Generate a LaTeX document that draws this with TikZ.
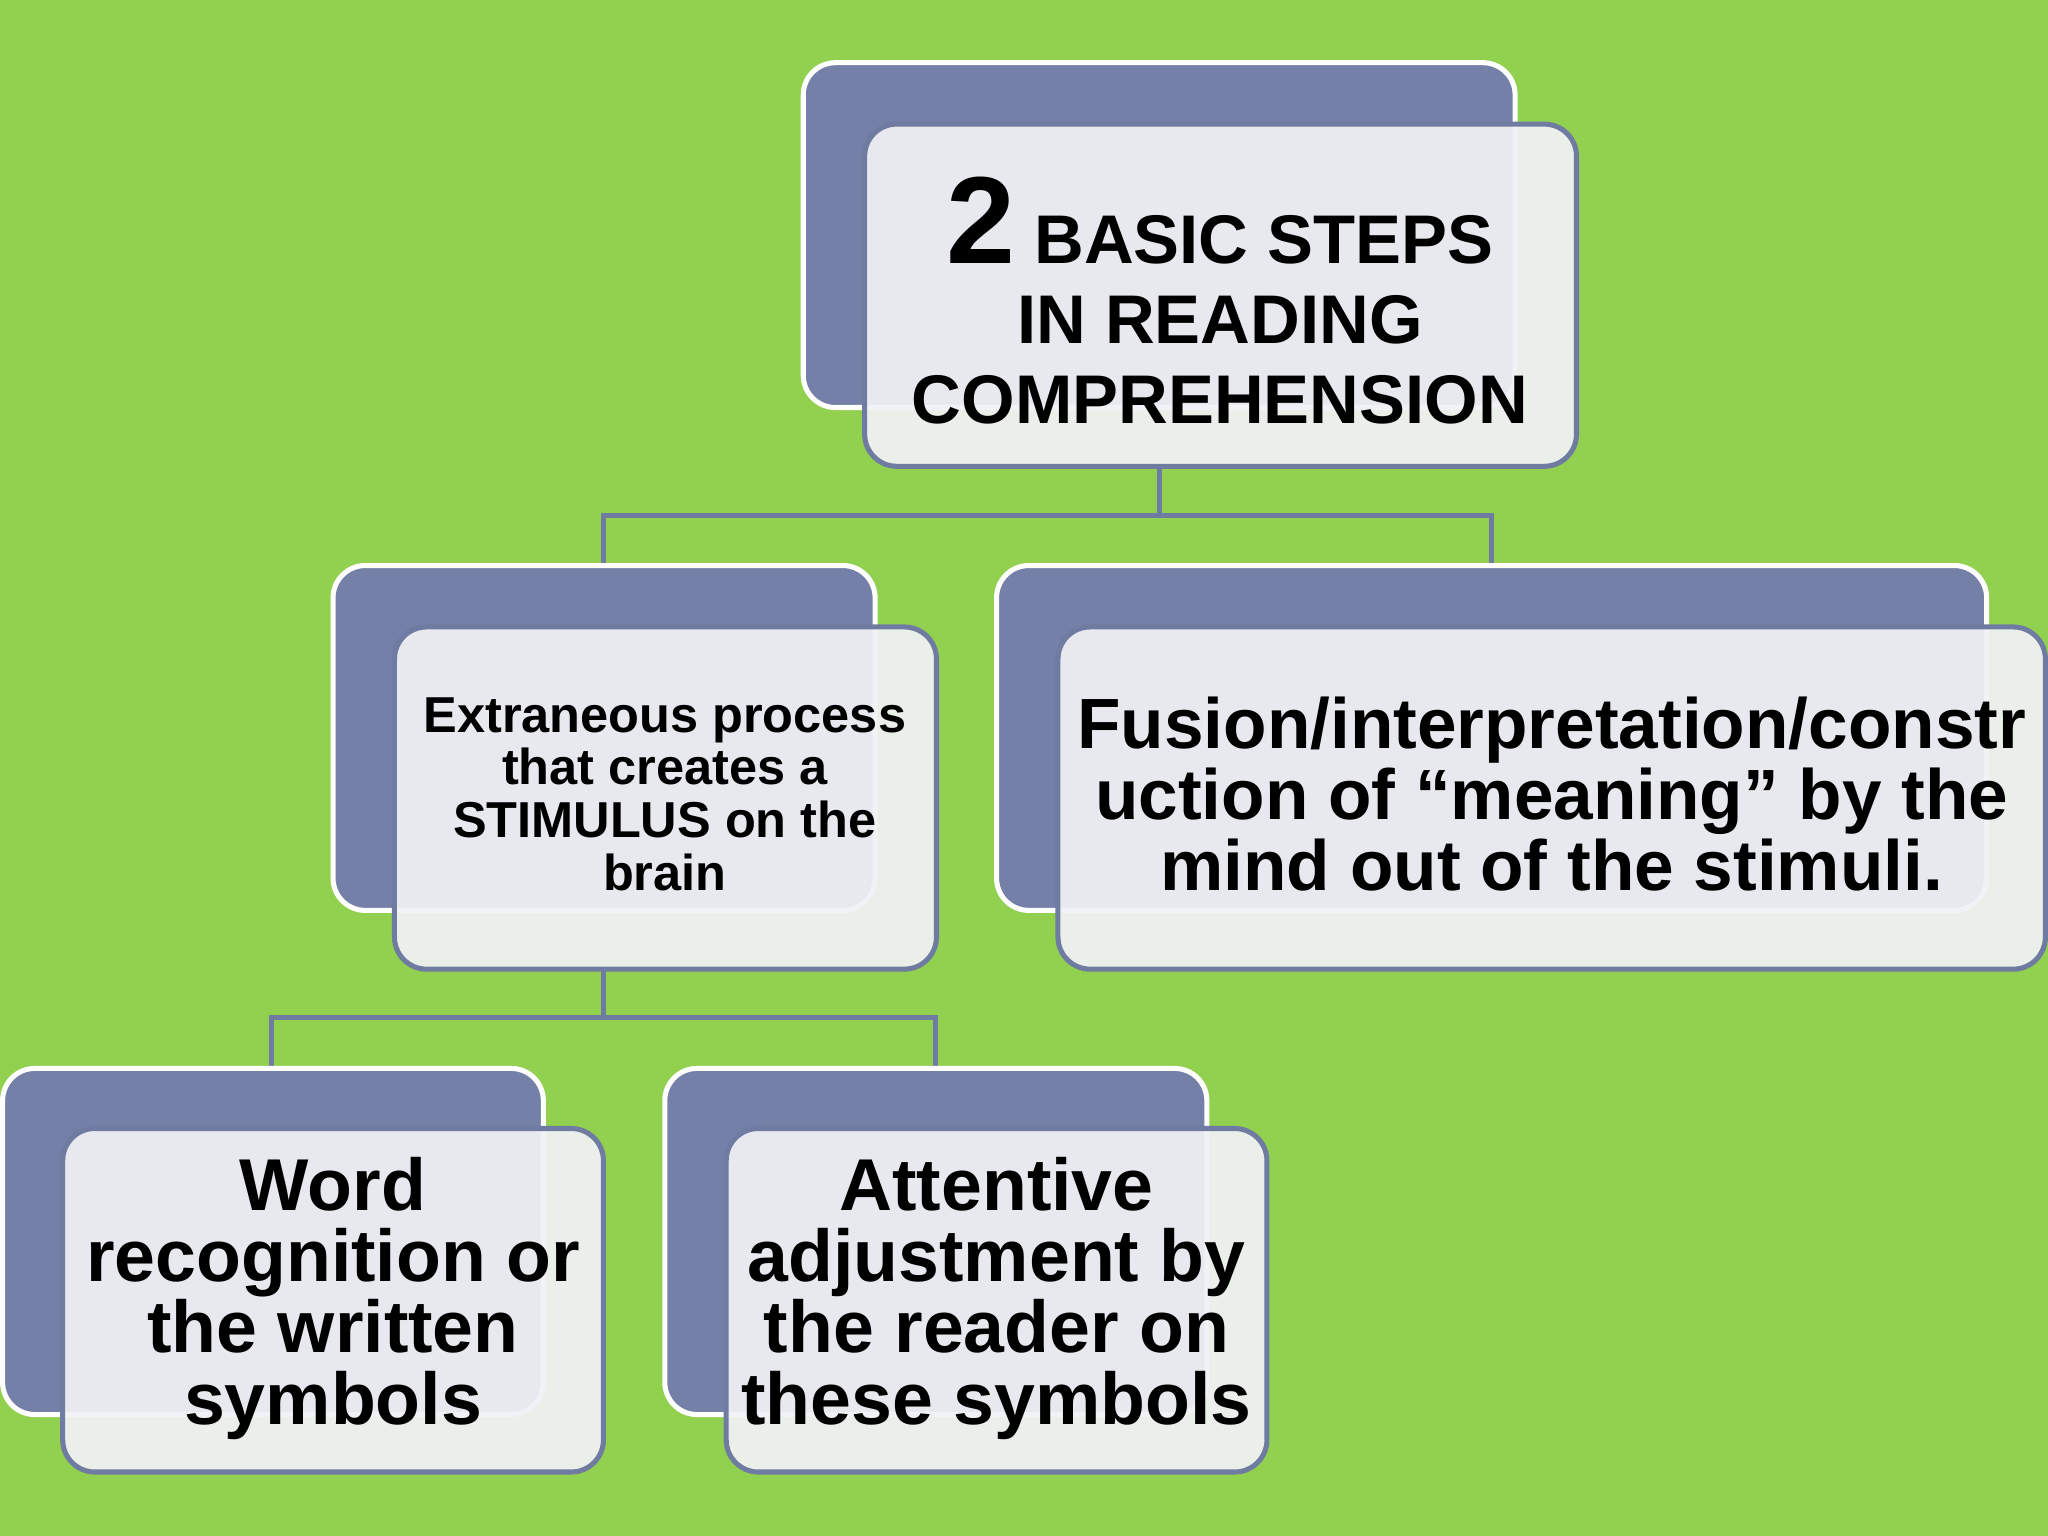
\documentclass[tikz,border=0pt]{standalone}
\usepackage{fontspec}
\setmainfont{Liberation Sans}
\definecolor{bg}{HTML}{92D050}
\definecolor{backc}{HTML}{7480A8}
\definecolor{frontc}{HTML}{F1F2F5}
\definecolor{edgec}{HTML}{6F7BA0}
\tikzset{
 backbox/.style={draw=white,line width=1.1pt,fill=backc,rounded corners=7pt},
 frontbox/.style={draw=edgec,line width=1.1pt,fill=frontc,fill opacity=0.93,rounded corners=7pt},
 conn/.style={draw=edgec,line width=1.1pt},
 lbl/.style={align=center,font=\bfseries}
}
\begin{document}
\begin{tikzpicture}[x=0.1mm,y=-0.1mm]
\fill[bg] (0,0) rectangle (1568,1176);
\useasboundingbox (0,0) rectangle (1568,1176);
% connectors
\coordinate (c1) at (888,395);
\draw[conn] (888,357) -- (c1);
\draw[conn] (462,432) |- (c1) -| (1142,432);
\draw[conn] (462,742) -- (462,779);
\draw[conn] (208,818) |- (462,779) -| (716,818);
% top
\draw[backbox] (615,48) rectangle (1160,312);
\draw[frontbox] (662,95) rectangle (1207,357);
\node[lbl,font=\bfseries\fontsize{15}{17.5}\selectfont] (top) at (934,230)
 {{\fontsize{27}{27}\selectfont 2} BASIC STEPS\\ IN READING\\ COMPREHENSION};
% mid left
\draw[backbox] (255,433) rectangle (670,697);
\draw[frontbox] (302,480) rectangle (717,742);
\node[lbl,font=\bfseries\fontsize{11}{11.5}\selectfont] (ml) at (509,608)
 {Extraneous process\\ that creates a\\ STIMULUS on the\\ brain};
% mid right
\draw[backbox] (763,433) rectangle (1521,697);
\draw[frontbox] (810,480) rectangle (1566,742);
\node[lbl,font=\bfseries\fontsize{15.5}{15.5}\selectfont] (mr) at (1188,608)
 {Fusion/interpretation/constr\\ uction of “meaning” by the\\ mind out of the stimuli.};
% bottom left
\draw[backbox] (2,818) rectangle (416,1083);
\draw[frontbox] (48,864) rectangle (462,1127);
\node[lbl,font=\bfseries\fontsize{16}{15.5}\selectfont] (bl) at (255,994)
 {Word\\ recognition or\\ the written\\ symbols};
% bottom right
\draw[backbox] (509,818) rectangle (924,1083);
\draw[frontbox] (556,864) rectangle (970,1127);
\node[lbl,font=\bfseries\fontsize{16}{15.5}\selectfont] (br) at (763,994)
 {Attentive\\ adjustment by\\ the reader on\\ these symbols};
\end{tikzpicture}
\end{document}
